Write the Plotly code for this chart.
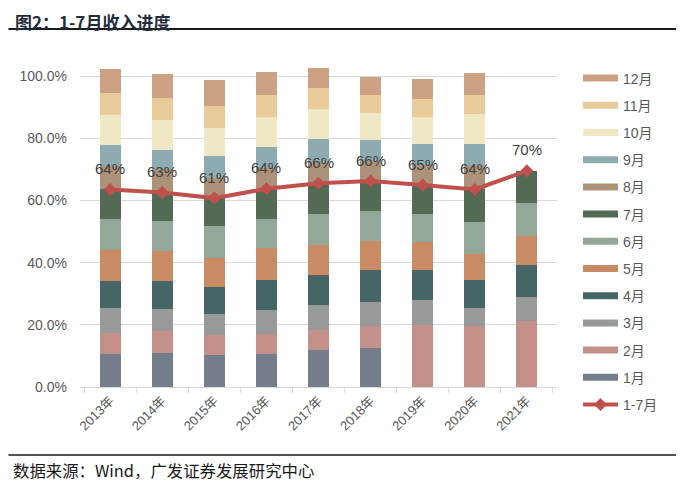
import plotly.graph_objs as go

years = ['2013年', '2014年', '2015年', '2016年', '2017年', '2018年', '2019年', '2020年', '2021年']

# monthly share of full-year revenue, %
m01 = [10.7, 11.0, 10.4, 10.7, 12.0, 12.6, 0, 0, 0]
m02 = [6.8, 6.9, 6.3, 6.5, 6.5, 7.1, 20.0, 19.5, 21.1]
m03 = [7.9, 7.1, 6.7, 7.5, 7.8, 7.8, 7.9, 5.8, 7.8]
m04 = [8.8, 9.1, 8.8, 9.7, 9.7, 10.1, 9.7, 9.1, 10.4]
m05 = [9.9, 9.7, 9.4, 10.2, 9.8, 9.4, 9.1, 8.4, 9.4]
m06 = [10.1, 9.6, 10.1, 9.6, 9.9, 9.7, 9.1, 10.4, 10.4]
m07 = [9.4, 9.2, 9.1, 9.6, 9.9, 9.6, 9.2, 10.4, 10.5]
m08 = [7.5, 7.5, 6.5, 6.6, 6.5, 6.5, 6.3, 7.5, None]
m09 = [6.7, 6.3, 6.9, 6.8, 7.8, 6.7, 6.9, 7.1, None]
m10 = [9.7, 9.4, 9.3, 9.7, 9.7, 8.8, 8.8, 9.7, None]
m11 = [7.1, 7.1, 7.1, 7.1, 6.5, 5.8, 5.8, 6.2, None]
m12 = [7.6, 7.8, 8.1, 7.5, 6.5, 5.8, 6.2, 7.1, None]

# cumulative Jan-Jul progress, %
jan_jul = [63.6, 62.6, 60.8, 63.8, 65.6, 66.3, 65.0, 63.6, 69.6]

month_names = ['1月', '2月', '3月', '4月', '5月', '6月', '7月', '8月', '9月', '10月', '11月', '12月']
month_colors = ['#737D8C', '#C4908A', '#979A98', '#466566', '#C98B63', '#93A898',
                '#536B55', '#AB9278', '#8EABB2', '#F0E7C5', '#E8CB98', '#CDA183']
month_values = [m01, m02, m03, m04, m05, m06, m07, m08, m09, m10, m11, m12]

line_color = '#C0504D'
font_lat = 'Liberation Sans, Arial, Noto Sans CJK SC, sans-serif'
font_cjk = 'Noto Sans CJK SC, sans-serif'

fig = go.Figure()

for i, (name, color, vals) in enumerate(zip(month_names, month_colors, month_values)):
    fig.add_trace(go.Bar(
        x=years,
        y=[v / 100 if v is not None else None for v in vals],
        name=name,
        marker_color=color,
        marker_line_width=0,
        showlegend=False,
    ))
    # wide legend swatch like the original
    fig.add_trace(go.Scatter(
        x=[None], y=[None],
        mode='lines',
        name=name,
        line=dict(color=color, width=7),
        legendgroup=name,
        legendrank=12 - i,
        showlegend=True,
    ))

fig.add_trace(go.Scatter(
    x=years,
    y=[v / 100 for v in jan_jul],
    name='1-7月',
    mode='lines+markers',
    line=dict(color=line_color, width=4),
    marker=dict(symbol='diamond', size=10, color=line_color),
    legendgroup='1-7月',
    legendrank=13,
))

# data labels above the line points
labels = [
    dict(x=yr, y=v / 100, text=f'{v:.0f}%', yshift=21, showarrow=False,
         font=dict(family=font_lat, size=15, color='#404040'))
    for yr, v in zip(years, jan_jul)
]

# page body has an 8px margin, so the figure is laid out 8px smaller
fig.update_layout(
    barmode='stack',
    bargap=0.6,
    width=676,
    height=484,
    plot_bgcolor='white',
    paper_bgcolor='white',
    font=dict(family=font_lat, color='#595959', size=13),
    margin=dict(l=72, r=127, t=59, b=105, autoexpand=False),
    legend=dict(
        x=1.044, y=1.014,
        xanchor='left', yanchor='top',
        traceorder='grouped',
        tracegroupgap=6,
        font=dict(size=14, color='#595959'),
        itemwidth=35,
        maxheight=480,
    ),
    shapes=[
        dict(type='line', xref='paper', yref='paper', x0=-0.15, x1=1.266, y0=1.119, y1=1.119,
             line=dict(color='#1a1a1a', width=2)),
        dict(type='line', xref='paper', yref='paper', x0=-0.15, x1=1.266, y0=-0.2125, y1=-0.2125,
             line=dict(color='#1a1a1a', width=1.5)),
    ],
    annotations=labels + [
        dict(text='<b>图2：1-7月收入进度</b>', xref='paper', yref='paper', x=-0.138, y=1.184,
             xanchor='left', yanchor='top', showarrow=False, borderpad=0,
             font=dict(family=font_cjk, size=17, color='#1F2D3D')),
        dict(text='数据来源：Wind，广发证券发展研究中心', xref='paper', yref='paper', x=-0.145, y=-0.259,
             xanchor='left', yanchor='middle', showarrow=False,
             font=dict(family=font_cjk, size=16.4, color='#1a1a1a')),
    ],
)

fig.update_xaxes(
    type='category',
    tickangle=-45,
    tickfont=dict(size=13, color='#595959'),
    showline=True, linecolor='#D9D9D9', linewidth=1,
    ticks='outside', tickson='boundaries', ticklen=5, tickcolor='#D9D9D9',
    showgrid=False,
    automargin=False,
)
fig.update_yaxes(
    range=[0, 1.03],
    tickvals=[0, 0.2, 0.4, 0.6, 0.8, 1.0],
    tickformat='.1%',
    tickfont=dict(size=14, color='#595959'),
    showgrid=True, gridcolor='#D9D9D9', gridwidth=1,
    zeroline=False,
    ticks='', ticklabelstandoff=12,
    automargin=False,
)

fig.write_html('out.html')
